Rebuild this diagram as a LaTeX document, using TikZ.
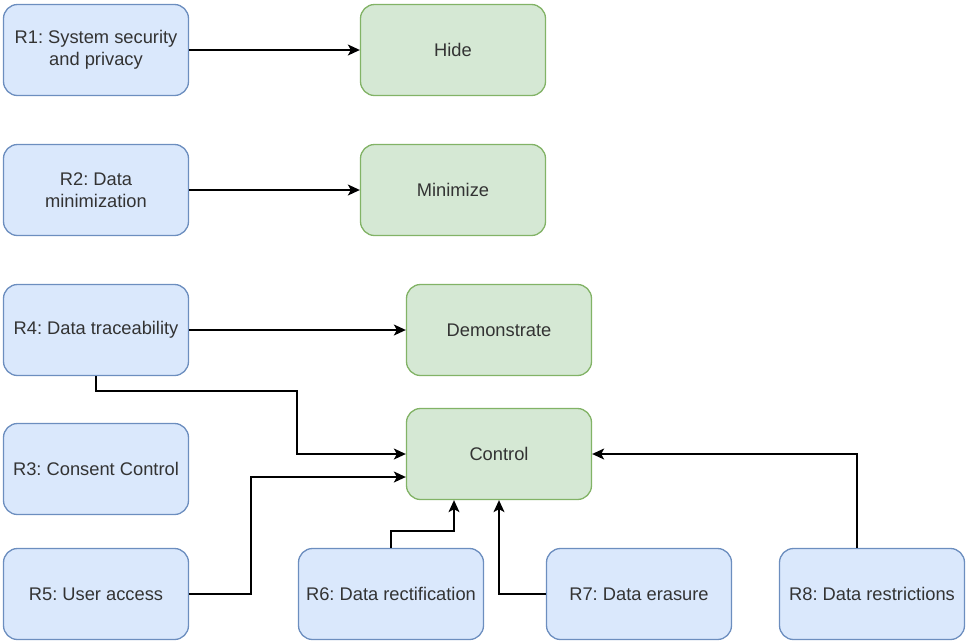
\documentclass[tikz,border=0pt]{standalone}
\usepackage{fontspec}
\setmainfont{Liberation Sans}
\frenchspacing
\usetikzlibrary{arrows.meta}
\definecolor{reqfill}{HTML}{DAE8FC}
\definecolor{reqline}{HTML}{6C8EBF}
\definecolor{stratfill}{HTML}{D5E8D4}
\definecolor{stratline}{HTML}{82B366}
\definecolor{txt}{HTML}{333333}
\begin{document}
\begin{tikzpicture}[x=1pt,y=-1pt,
  box/.style={rounded corners=14pt, line width=1.3pt, minimum width=185pt,
    minimum height=91pt, align=center, text=txt,
    font=\fontsize{18.3}{21.5}\selectfont, inner sep=2pt},
  req/.style={box, draw=reqline, fill=reqfill},
  strat/.style={box, draw=stratline, fill=stratfill},
  arr/.style={line width=1.4pt, -{Stealth[length=12pt,width=11pt,inset=3pt]}}]
\useasboundingbox (0,0) rectangle (966,641);

% requirements
\node[req] (r1) at (96,50) {R1: System security\\and privacy};
\node[req] (r2) at (96,190) {R2: Data\\minimization};
\node[req] (r4) at (96,330) {R4: Data traceability};
\node[req] (r3) at (96,469) {R3: Consent Control};
\node[req] (r5) at (96,594) {R5: User access};
\node[req] (r6) at (391,594) {R6: Data rectification};
\node[req] (r7) at (639,594) {R7: Data erasure};
\node[req] (r8) at (872,594) {R8: Data restrictions};

% privacy strategies
\node[strat] (hide) at (453,50) {Hide};
\node[strat] (minimize) at (453,190) {Minimize};
\node[strat] (demo) at (499,330) {Demonstrate};
\node[strat] (control) at (499,454) {Control};

% links
\draw[arr] (r1) -- (hide);
\draw[arr] (r2) -- (minimize);
\draw[arr] (r4) -- (demo);
\draw[arr] (r4.south) |- (297,391) |- (control.west);
\draw[arr] (r5.east) -| (251,477) -- ([yshift=-23pt]control.west);
\draw[arr] (r6.north) |- (454,531) -- ([xshift=-45pt]control.south);
\draw[arr] (r7.west) -| (control.south);
\draw[arr] ([xshift=-15pt]r8.north) |- (control.east);
\end{tikzpicture}
\end{document}
